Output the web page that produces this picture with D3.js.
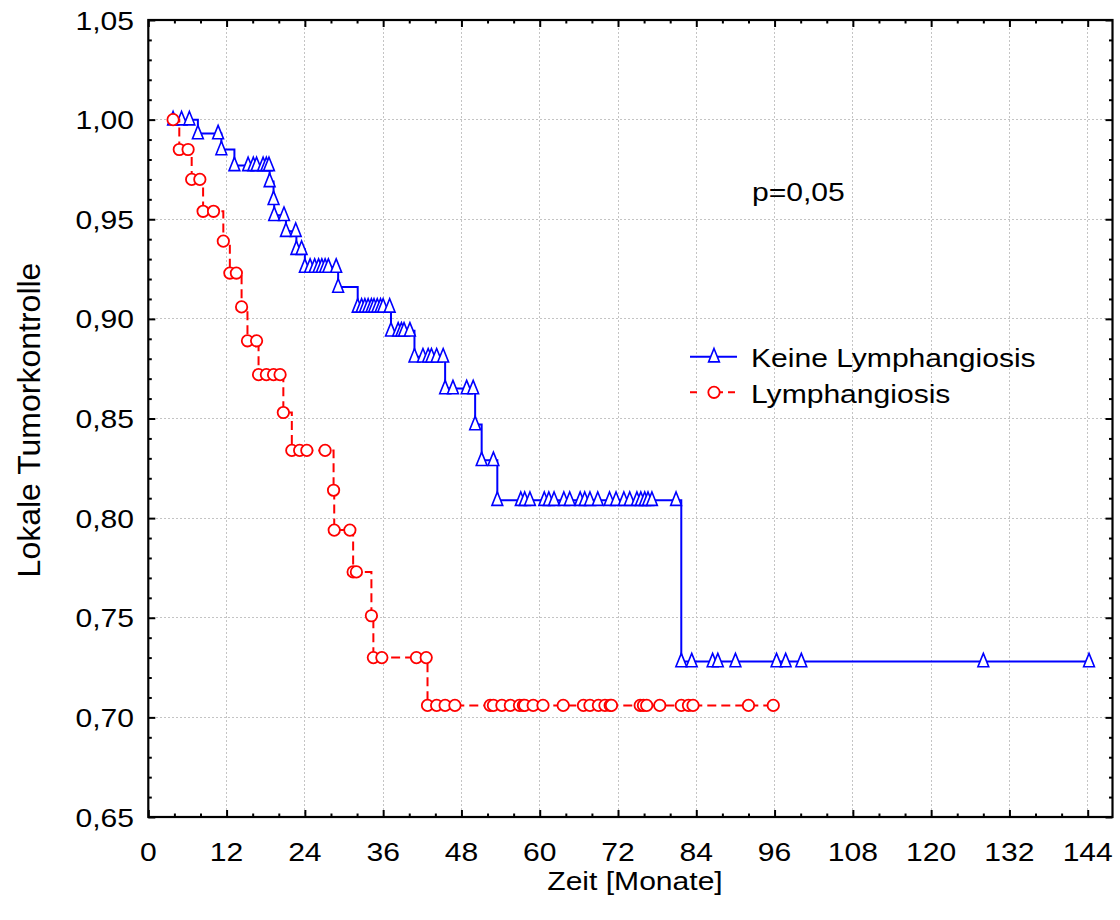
<!DOCTYPE html>
<html>
<head>
<meta charset="utf-8">
<script src="https://cdn.jsdelivr.net/npm/d3@7"></script>
<style>
  html, body { margin: 0; padding: 0; background: #fff; }
  svg text { font-family: "Liberation Sans", Arial, sans-serif; fill: #000; }
</style>
</head>
<body>
<svg id="chart" width="1120" height="920"></svg>
<script>
// Kaplan-Meier: local tumour control by lymphangiosis status
const xMajorTicks = [0, 12, 24, 36, 48, 60, 72, 84, 96, 108, 120, 132, 144];
const yMajorTicks = [0.65, 0.70, 0.75, 0.80, 0.85, 0.90, 0.95, 1.00, 1.05];
const yTickLabels = ["0,65", "0,70", "0,75", "0,80", "0,85", "0,90", "0,95", "1,00", "1,05"];
const xDomain = [0, 147.8];
const yDomain = [0.65, 1.05];

const seriesNames = ["Keine Lymphangiosis", "Lymphangiosis"];

// Keine Lymphangiosis: months and cumulative proportion at each observation
const blueTime = [
  3.8, 5.1, 6.3,
  7.6, 10.7,
  11.2,
  13.2, 15.3, 16.1, 16.6, 17.6, 18.1, 18.5,
  18.6,
  19.2,
  19.3, 20.8,
  21.1, 22.6,
  22.7, 23.5,
  24.0, 24.8, 25.5, 26.1, 26.6, 27.1, 27.6, 28.8,
  29.1,
  32.1, 32.7, 33.2, 33.7, 34.2, 34.6, 35.1, 35.6, 36.0, 37.0,
  37.2, 38.3, 38.8, 39.2, 40.1,
  40.8, 42.1, 42.9, 43.4, 44.2, 45.2,
  45.5, 46.7, 48.8, 49.8,
  50.1,
  51.1, 52.9,
  53.5, 57.1, 57.7, 58.5, 60.7, 61.4, 62.2, 63.7, 64.6, 66.2, 66.9, 67.7, 68.9,
  70.7, 71.7, 72.9, 73.8, 74.9, 75.5, 76.1, 76.6, 77.2, 80.9,
  81.7, 83.3, 86.5, 87.3, 90.0, 96.3, 97.7, 100.1, 128.0, 144.2
];
const blueSurv = [
  1.000, 1.000, 1.000,
  0.993, 0.993,
  0.985,
  0.977, 0.977, 0.977, 0.977, 0.977, 0.977, 0.977,
  0.969,
  0.960,
  0.952, 0.952,
  0.944, 0.944,
  0.935, 0.935,
  0.926, 0.926, 0.926, 0.926, 0.926, 0.926, 0.926, 0.926,
  0.916,
  0.906, 0.906, 0.906, 0.906, 0.906, 0.906, 0.906, 0.906, 0.906, 0.906,
  0.894, 0.894, 0.894, 0.894, 0.894,
  0.881, 0.881, 0.881, 0.881, 0.881, 0.881,
  0.865, 0.865, 0.865, 0.865,
  0.847,
  0.829, 0.829,
  0.809, 0.809, 0.809, 0.809, 0.809, 0.809, 0.809, 0.809, 0.809, 0.809, 0.809, 0.809, 0.809,
  0.809, 0.809, 0.809, 0.809, 0.809, 0.809, 0.809, 0.809, 0.809, 0.809,
  0.728, 0.728, 0.728, 0.728, 0.728, 0.728, 0.728, 0.728, 0.728, 0.728
];

// Lymphangiosis
const redTime = [
  3.8,
  4.75, 6.1,
  6.65, 7.9,
  8.4, 10.0,
  11.5,
  12.5, 13.5,
  14.3,
  15.2, 16.6,
  16.9, 18.1, 19.2, 20.2,
  20.7,
  22.0, 23.2, 24.3, 27.1,
  28.4,
  28.5, 30.9,
  31.4, 31.9,
  34.2,
  34.5, 35.8, 41.1, 42.6,
  42.8, 44.2, 45.5, 47.0, 52.4, 52.9, 54.2, 55.5, 56.9, 57.5, 57.7, 59.0, 60.5,
  63.6, 66.7, 67.7, 69.0, 70.0, 70.8, 71.0, 75.4, 75.9, 76.4, 78.4, 81.7, 82.8,
  83.5, 92.0, 95.8
];
const redSurv = [
  1.000,
  0.985, 0.985,
  0.970, 0.970,
  0.954, 0.954,
  0.939,
  0.923, 0.923,
  0.906,
  0.889, 0.889,
  0.872, 0.872, 0.872, 0.872,
  0.853,
  0.834, 0.834, 0.834, 0.834,
  0.814,
  0.794, 0.794,
  0.773, 0.773,
  0.751,
  0.730, 0.730, 0.730, 0.730,
  0.706, 0.706, 0.706, 0.706, 0.706, 0.706, 0.706, 0.706, 0.706, 0.706, 0.706, 0.706, 0.706,
  0.706, 0.706, 0.706, 0.706, 0.706, 0.706, 0.706, 0.706, 0.706, 0.706, 0.706, 0.706, 0.706,
  0.706, 0.706, 0.706
];

const pLabel = "p=0,05";
const xTitle = "Zeit [Monate]";
const yTitle = "Lokale Tumorkontrolle";

// ---- layout ----
const plot = { left: 148.3, right: 1112.5, top: 20, bottom: 817 };
const BLUE = "#0000ff", RED = "#ff0000";
const fontSize = 26.5, stretch = 1.135;

const svg = d3.select("#chart");
const x = d3.scaleLinear().domain(xDomain).range([plot.left, plot.right]);
const y = d3.scaleLinear().domain(yDomain).range([plot.bottom, plot.top]);

const xMinor = d3.range(0, 148, 4).filter(v => v % 12 !== 0);
const yMinor = d3.range(65, 106, 1).map(v => v / 100).filter(v => Math.round(v * 100) % 5 !== 0);

// dotted grid
const grid = svg.append("g").attr("stroke", "#c4c4c4").attr("stroke-width", 1)
  .attr("stroke-dasharray", "2,2").attr("shape-rendering", "crispEdges");
grid.selectAll(".gx").data(xMajorTicks.filter(v => v > 0)).join("line")
  .attr("x1", d => x(d)).attr("x2", d => x(d)).attr("y1", plot.top).attr("y2", plot.bottom);
grid.selectAll(".gy").data(yMajorTicks.filter(v => v > 0.65 && v < 1.05)).join("line")
  .attr("x1", plot.left).attr("x2", plot.right).attr("y1", d => y(d)).attr("y2", d => y(d));

// inward ticks on all four sides
function addAxis(gen, tx, ty, vals, size) {
  const g = svg.append("g").attr("transform", `translate(${tx},${ty})`)
    .call(gen.tickValues(vals).tickSize(size).tickFormat(""));
  g.select(".domain").remove();
  g.selectAll(".tick line").attr("stroke", "#000").attr("stroke-width", 2);
}
addAxis(d3.axisBottom(x), 0, plot.bottom, xMajorTicks, -7);
addAxis(d3.axisBottom(x), 0, plot.bottom, xMinor, -3.5);
addAxis(d3.axisTop(x), 0, plot.top, xMajorTicks, -7);
addAxis(d3.axisTop(x), 0, plot.top, xMinor, -3.5);
addAxis(d3.axisLeft(y), plot.left, 0, yMajorTicks, -7);
addAxis(d3.axisLeft(y), plot.left, 0, yMinor, -3.5);
addAxis(d3.axisRight(y), plot.right, 0, yMajorTicks, -7);
addAxis(d3.axisRight(y), plot.right, 0, yMinor, -3.5);

svg.append("rect")
  .attr("x", plot.left).attr("y", plot.top)
  .attr("width", plot.right - plot.left).attr("height", plot.bottom - plot.top)
  .attr("fill", "none").attr("stroke", "#000").attr("stroke-width", 2.2);

// horizontally widened text helper
function label(g, tx, ty, str, anchor, size) {
  return g.append("text")
    .attr("transform", `translate(${tx},${ty}) scale(${stretch},1)`)
    .attr("text-anchor", anchor).attr("font-size", size || fontSize).text(str);
}

const labels = svg.append("g");
xMajorTicks.forEach(v => label(labels, x(v), 860.5, String(v), "middle"));
yMajorTicks.forEach((v, i) => label(labels, 134, y(v) + 9.6, yTickLabels[i], "end"));

label(labels, 635, 890, xTitle, "middle");
labels.append("text")
  .attr("transform", `translate(40,420) rotate(-90)`)
  .attr("text-anchor", "middle").attr("font-size", 32).text(yTitle);
label(labels, 752, 201, pLabel, "start");

// survival curves
const zip = (t, s) => t.map((d, i) => ({ t: d, s: s[i] }));
const bluePts = zip(blueTime, blueSurv);
const redPts = zip(redTime, redSurv);
const stepLine = d3.line().x(d => x(d.t)).y(d => y(d.s)).curve(d3.curveStepAfter);

const triPath = "M0,-8.2L5.4,5.2L-5.4,5.2Z";

svg.append("path").datum(bluePts).attr("d", stepLine)
  .attr("fill", "none").attr("stroke", BLUE).attr("stroke-width", 2);
svg.append("g").selectAll("path").data(bluePts).join("path")
  .attr("d", triPath).attr("transform", d => `translate(${x(d.t)},${y(d.s)})`)
  .attr("fill", "#fff").attr("stroke", BLUE).attr("stroke-width", 1.6);

svg.append("path").datum(redPts).attr("d", stepLine)
  .attr("fill", "none").attr("stroke", RED).attr("stroke-width", 2)
  .attr("stroke-dasharray", "9,5");
svg.append("g").selectAll("circle").data(redPts).join("circle")
  .attr("cx", d => x(d.t)).attr("cy", d => y(d.s)).attr("r", 5.7)
  .attr("fill", "#fff").attr("stroke", RED).attr("stroke-width", 1.8);

// legend
const legend = svg.append("g");
const legY = [356.7, 392.3];
legend.append("line").attr("x1", 690).attr("x2", 737).attr("y1", legY[0]).attr("y2", legY[0])
  .attr("stroke", BLUE).attr("stroke-width", 2);
legend.append("path").attr("d", triPath).attr("transform", `translate(714,${legY[0]})`)
  .attr("fill", "#fff").attr("stroke", BLUE).attr("stroke-width", 1.6);
legend.append("line").attr("x1", 690).attr("x2", 737).attr("y1", legY[1]).attr("y2", legY[1])
  .attr("stroke", RED).attr("stroke-width", 2).attr("stroke-dasharray", "7,17,9,5");
legend.append("circle").attr("cx", 714).attr("cy", legY[1]).attr("r", 5.7)
  .attr("fill", "#fff").attr("stroke", RED).attr("stroke-width", 1.8);
seriesNames.forEach((n, i) => label(legend, 751, legY[i] + 10.5, n, "start"));
</script>
</body>
</html>
